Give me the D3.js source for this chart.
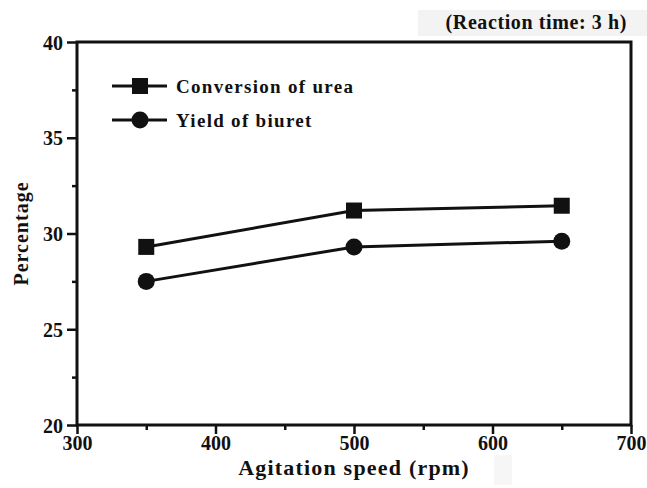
<!DOCTYPE html>
<html>
<head>
<meta charset="utf-8">
<script src="https://cdn.jsdelivr.net/npm/d3@7"></script>
<style>
  body { margin: 0; background: #fff; }
  text { font-family: "Liberation Serif", "Times New Roman", serif; font-weight: bold; fill: #111; }
</style>
</head>
<body>
<div class="chart"></div>
<script>
// data
const speeds = [350, 500, 650];
const conversion = [29.3, 31.2, 31.45];
const yieldBiuret = [27.5, 29.3, 29.6];
const xTicks = [300, 400, 500, 600, 700];
const yTicks = [20, 25, 30, 35, 40];
const seriesNames = ['Conversion of urea', 'Yield of biuret'];

const width = 647, height = 488;
const margin = {top: 42, right: 16, bottom: 63, left: 77};
const graphWidth = width - margin.left - margin.right;
const graphHeight = height - margin.top - margin.bottom;

const svg = d3.select('.chart')
    .append('svg')
    .attr('width', width)
    .attr('height', height);

const graph = svg.append('g')
    .attr('transform', `translate(${margin.left}, ${margin.top})`);

const x = d3.scaleLinear().domain([300, 700]).range([0, graphWidth]);
const y = d3.scaleLinear().domain([20, 40]).range([graphHeight, 0]);

// annotation box top right (+ faint scan patches)
svg.append('rect')
    .attr('x', 418).attr('y', 10)
    .attr('width', 229).attr('height', 26)
    .attr('fill', '#f3f3f3');
svg.append('rect')
    .attr('x', 494).attr('y', 455)
    .attr('width', 18).attr('height', 30)
    .attr('fill', '#f6f6f6');
svg.append('text')
    .attr('x', 627).attr('y', 29)
    .attr('text-anchor', 'end')
    .style('font-size', '20px').style('letter-spacing', '0.6px')
    .text('(Reaction time: 3 h)');

// minor ticks
const xMinor = d3.axisBottom(x).tickValues([350, 450, 550, 650]).tickSize(5).tickFormat('');
const yMinor = d3.axisLeft(y).tickValues([22.5, 27.5, 32.5, 37.5]).tickSize(5).tickFormat('');

graph.append('g').attr('class', 'minor')
    .attr('transform', `translate(0, ${graphHeight})`).call(xMinor);
graph.append('g').attr('class', 'minor').call(yMinor);

// major axes
const xAxisGroup = graph.append('g')
    .attr('transform', `translate(0, ${graphHeight})`)
    .call(d3.axisBottom(x).tickValues(xTicks).tickSize(9).tickPadding(2));
const yAxisGroup = graph.append('g')
    .call(d3.axisLeft(y).tickValues(yTicks).tickSize(10).tickPadding(4));

graph.selectAll('.domain').remove();
graph.selectAll('.tick line').attr('stroke', '#111').attr('stroke-width', 2.5);
graph.selectAll('.tick text').style('font-size', '20px').attr('fill', '#111');
yAxisGroup.selectAll('.tick text').attr('dy', '0.35em');

// frame
graph.append('rect')
    .attr('width', graphWidth).attr('height', graphHeight)
    .attr('fill', 'none').attr('stroke', '#111').attr('stroke-width', 3);

// axis titles
svg.append('text')
    .attr('x', margin.left + graphWidth / 2)
    .attr('y', 475)
    .attr('text-anchor', 'middle')
    .style('font-size', '22px').style('letter-spacing', '1.2px')
    .text('Agitation speed (rpm)');
svg.append('text')
    .attr('transform', `translate(28, ${margin.top + graphHeight / 2}) rotate(-90)`)
    .attr('text-anchor', 'middle')
    .style('font-size', '20px').style('letter-spacing', '1px')
    .text('Percentage');

// lines and markers
const line = d3.line().x(d => x(d[0])).y(d => y(d[1]));
const convData = speeds.map((s, i) => [s, conversion[i]]);
const yieldData = speeds.map((s, i) => [s, yieldBiuret[i]]);

[convData, yieldData].forEach(data => {
    graph.append('path')
        .datum(data)
        .attr('d', line)
        .attr('fill', 'none')
        .attr('stroke', '#111')
        .attr('stroke-width', 3);
});

graph.selectAll('.sq')
    .data(convData)
    .enter()
    .append('rect')
    .attr('x', d => x(d[0]) - 8)
    .attr('y', d => y(d[1]) - 8)
    .attr('width', 16).attr('height', 16)
    .attr('fill', '#111');

graph.selectAll('.circ')
    .data(yieldData)
    .enter()
    .append('circle')
    .attr('cx', d => x(d[0]))
    .attr('cy', d => y(d[1]))
    .attr('r', 8.5)
    .attr('fill', '#111');

// legend
const legend = svg.append('g').attr('transform', 'translate(112, 86)');
seriesNames.forEach((name, i) => {
    const row = legend.append('g').attr('transform', `translate(0, ${i * 34})`);
    row.append('line')
        .attr('x1', 0).attr('x2', 55)
        .attr('stroke', '#111').attr('stroke-width', 3);
    if (i === 0) {
        row.append('rect').attr('x', 20).attr('y', -8).attr('width', 16).attr('height', 16).attr('fill', '#111');
    } else {
        row.append('circle').attr('cx', 28).attr('r', 8.5).attr('fill', '#111');
    }
    row.append('text')
        .attr('x', 64).attr('dy', '0.35em')
        .style('font-size', '19px').style('letter-spacing', '1.3px')
        .text(name);
});
</script>
</body>
</html>
